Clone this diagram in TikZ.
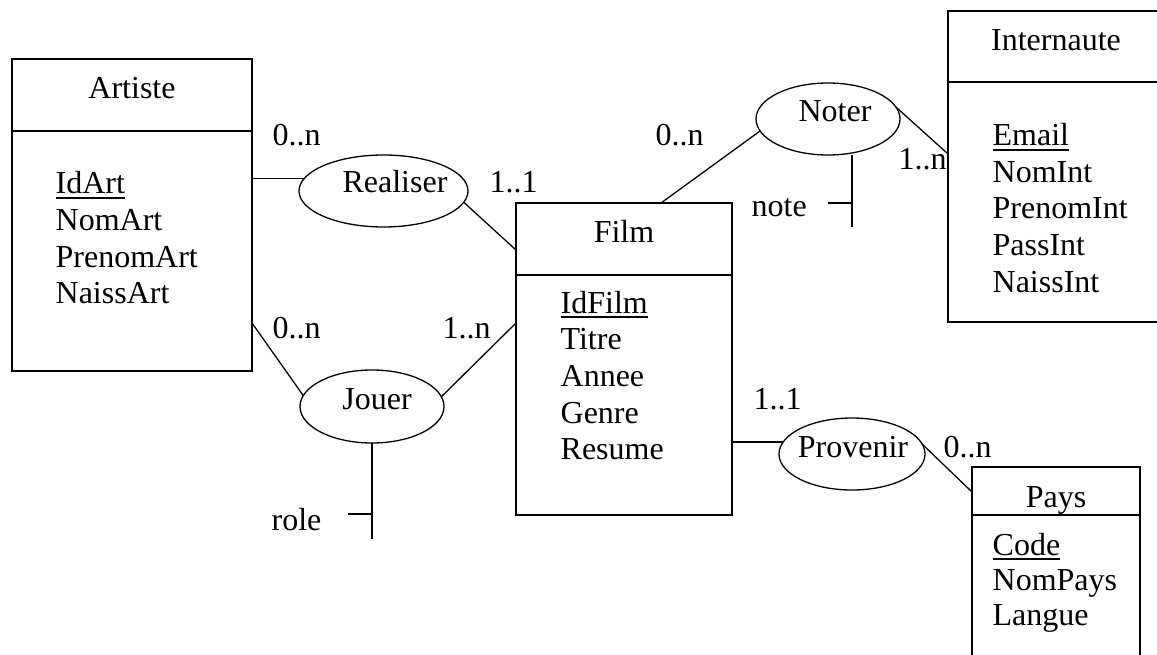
\documentclass[tikz,border=0pt]{standalone}
\usepackage{fontspec}
\setmainfont{Liberation Serif}
\usetikzlibrary{shapes.geometric,calc}
% identifier attribute: underlined with a slightly heavy rule
\newcommand\ulkey[1]{\setbox0=\hbox{#1}\rlap{\rule[-4.8pt]{\wd0}{1.4pt}}#1}

\begin{document}
\begin{tikzpicture}[x=1pt,y=-1pt,line width=1.3pt,
  every node/.style={font=\fontsize{32}{36}\selectfont},
  ent/.style={rectangle,draw,inner sep=0pt,outer sep=0pt},
  openent/.style={rectangle,draw=none,inner sep=0pt,outer sep=0pt},
  rel/.style={ellipse,draw,inner sep=0pt,outer sep=0pt},
  lbl/.style={inner sep=0pt,anchor=base west},
  ttl/.style={inner sep=0pt,anchor=base}]

\useasboundingbox[fill=white] (0,0) rectangle (1157,655);

% ---------- entities ----------
\node[ent,minimum width=240pt,minimum height=312pt,anchor=north west] (artiste) at (12,59) {};
\draw ($(artiste.north west)+(0,72)$) -- ($(artiste.north east)+(0,72)$);
\node[ttl] (artiste-t) at (132,99) {Artiste};
\foreach \a [count=\i from 0] in {\ulkey{IdArt},NomArt,PrenomArt,NaissArt}
  \node[lbl] (art-\i) at (55,194+36.6*\i) {\a};

\node[ent,minimum width=216pt,minimum height=312pt,anchor=north west] (film) at (516,203) {};
\draw ($(film.north west)+(0,72)$) -- ($(film.north east)+(0,72)$);
\node[ttl] (film-t) at (624,243) {Film};
\foreach \a [count=\i from 0] in {\ulkey{IdFilm},Titre,Annee,Genre,Resume}
  \node[lbl] (film-\i) at (560,313+36.7*\i) {\a};

\node[openent,minimum width=209pt,minimum height=311pt,anchor=north west] (internaute) at (948,11) {};
\draw (internaute.north east) -- (internaute.north west) -- (internaute.south west) -- (internaute.south east);
\draw ($(internaute.north west)+(0,71)$) -- ($(internaute.north east)+(0,71)$);
\node[ttl] (internaute-t) at (1056,51) {Internaute};
\foreach \a [count=\i from 0] in {\ulkey{Email},NomInt,PrenomInt,PassInt,NaissInt}
  \node[lbl] (int-\i) at (992,146+36.5*\i) {\a};

\node[openent,minimum width=168pt,minimum height=188pt,anchor=north west] (pays) at (972,467) {};
\draw (pays.south west) -- (pays.north west) -- (pays.north east) -- (pays.south east);
\draw ($(pays.north west)+(0,48)$) -- ($(pays.north east)+(0,48)$);
\node[ttl] (pays-t) at (1056,507) {Pays};
\foreach \a [count=\i from 0] in {\ulkey{Code},NomPays,Langue}
  \node[lbl] (pays-\i) at (992,555+35*\i) {\a};

% ---------- associations ----------
\node[rel,minimum width=169pt,minimum height=72pt] (realiser) at (383.5,191) {};
\node[ttl] (realiser-t) at (395,193) {Realiser};
\node[rel,minimum width=144pt,minimum height=73pt] (jouer) at (372,406.5) {};
\node[ttl] (jouer-t) at (377,409) {Jouer};
\node[rel,minimum width=144pt,minimum height=72pt] (noter) at (828,119) {};
\node[ttl] (noter-t) at (835,122) {Noter};
\node[rel,minimum width=146pt,minimum height=72pt] (provenir) at (852,454) {};
\node[ttl] (provenir-t) at (853,457) {Provenir};

% ---------- links ----------
\draw (artiste.east |- realiser.171) -- (realiser.171);
\draw (realiser.-8) -- ($(film.north west)+(0,47)$);
\draw ($(artiste.north east)+(0,264)$) -- (jouer.171);
\draw (jouer.8) -- ($(film.north west)+(0,120)$);
\draw ($(film.north west)+(145,0)$) -- (noter.190);
\draw (noter.10) -- ($(internaute.north west)+(0,143)$);
\draw (film.east |- provenir.170) -- (provenir.170);
\draw (provenir.8) -- ($(pays.north west)+(0,25)$);

% attributes carried by associations
\coordinate (roleend) at (372,539);
\coordinate (roletick) at (348,514);
\draw (jouer.south) -- (roleend);
\draw (roletick) -- (roletick -| roleend);
\node[lbl] (role) at (271,530) {role};

\coordinate (noteend) at (852,227);
\coordinate (notetick) at (828,203);
\draw (noteend |- noter.south) -- (noteend);
\draw (notetick) -- (notetick -| noteend);
\node[lbl] (note) at (751,217) {note};

% ---------- cardinalities ----------
\node[lbl] (c-art-real) at (272,146) {0..n};
\node[lbl] (c-film-real) at (489,193) {1..1};
\node[lbl] (c-art-jou) at (272,338) {0..n};
\node[lbl] (c-film-jou) at (442,338) {1..n};
\node[lbl] (c-film-not) at (655,146) {0..n};
\node[lbl] (c-int-not) at (898,170) {1..n};
\node[lbl] (c-film-prov) at (753,409) {1..1};
\node[lbl] (c-pays-prov) at (943,457) {0..n};
\end{tikzpicture}
\end{document}
